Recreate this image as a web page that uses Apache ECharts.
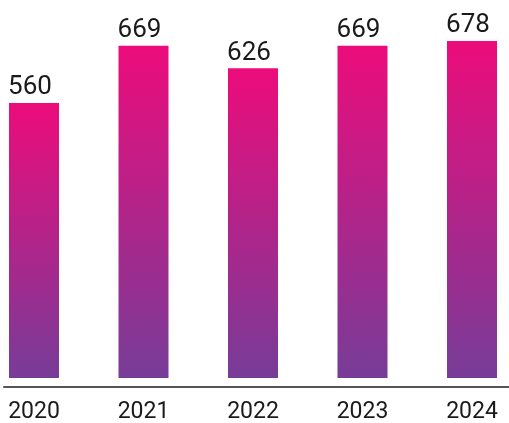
<!DOCTYPE html>
<html>
<head>
<meta charset="utf-8">
<script src="https://cdn.jsdelivr.net/npm/echarts@6/dist/echarts.min.js"></script>
<style>
html,body{margin:0;padding:0;background:#fff;}
#chart{width:509px;height:423px;}
</style>
</head>
<body>
<div id="chart"></div>
<script>
const categories = ['2020', '2021', '2022', '2023', '2024'];
const values = [560, 669, 626, 669, 678];

const chart = echarts.init(document.getElementById('chart'), null, {renderer: 'canvas'});
const font = 'Roboto, "Liberation Sans", sans-serif';
chart.setOption({
  animation: false,
  backgroundColor: '#ffffff',
  grid: [
    {left: -20.75, width: 547.5, top: 29.4, bottom: 45, outerBoundsMode: 'none', containLabel: false},
    {left: 4, right: 0, top: 300, bottom: 36.5, outerBoundsMode: 'none', containLabel: false}
  ],
  xAxis: [
    {
      type: 'category', gridIndex: 0, data: categories,
      axisLine: {show: false}, axisTick: {show: false},
      axisLabel: {color: '#1a1a1a', fontSize: 23, fontFamily: font, margin: 23}
    },
    {
      type: 'category', gridIndex: 1, data: [''],
      axisLine: {show: true, lineStyle: {color: '#555555', width: 2}},
      axisTick: {show: false}, axisLabel: {show: false}
    }
  ],
  yAxis: [
    {type: 'value', gridIndex: 0, min: 36, max: 700, show: false, splitLine: {show: false}},
    {type: 'value', gridIndex: 1, show: false, splitLine: {show: false}}
  ],
  series: [{
    type: 'bar',
    xAxisIndex: 0, yAxisIndex: 0,
    data: values,
    barWidth: 50,
    itemStyle: {
      color: new echarts.graphic.LinearGradient(0, 0, 0, 1, [
        {offset: 0, color: '#ec0c7b'},
        {offset: 1, color: '#773c98'}
      ])
    },
    label: {
      show: true, position: 'top', distance: 2, offset: [-4, 0],
      color: '#1a1a1a', fontSize: 26, fontFamily: font
    }
  }]
});
</script>
</body>
</html>
